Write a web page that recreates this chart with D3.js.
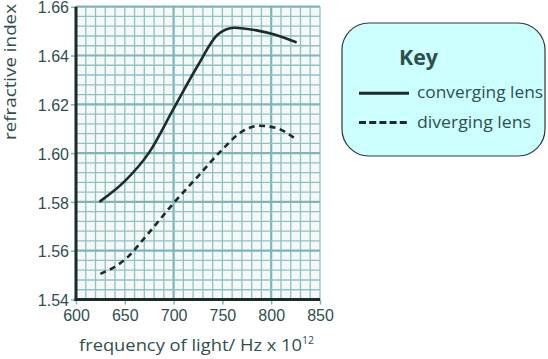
<!DOCTYPE html>
<html><head><meta charset="utf-8">
<script src="https://cdn.jsdelivr.net/npm/d3@7"></script>
<style>
html,body{margin:0;padding:0;background:#fff;}
svg{display:block;}
</style></head>
<body>
<svg id="c" width="548" height="359"></svg>
<script>
// ---- data ----
const xTicks = [600, 650, 700, 750, 800, 850];
const yTicks = [1.54, 1.56, 1.58, 1.60, 1.62, 1.64, 1.66];
const yTickLabels = ["1.54", "1.56", "1.58", "1.60", "1.62", "1.64", "1.66"];
const convergingX = [625, 650, 675, 700, 725, 745, 762, 785, 805, 825];
const convergingY = [1.5803, 1.5885, 1.6003, 1.6182, 1.6360, 1.6485, 1.6514, 1.6503, 1.6484, 1.6455];
const divergingX = [625, 650, 675, 700, 725, 750, 770, 787, 805, 825];
const divergingY = [1.5505, 1.5563, 1.5675, 1.5795, 1.5905, 1.6015, 1.6088, 1.6112, 1.6103, 1.6058];
const seriesNames = ["converging lens", "diverging lens"];

const svg = d3.select("#c");
const x = d3.scaleLinear().domain([600, 850]).range([76, 320]);
const y = d3.scaleLinear().domain([1.54, 1.66]).range([299.5, 6.7]);

const gridMinor = "#8cc3c3", gridMajor = "#7ab7b7", textCol = "#2f4f4f", ink = "#1c2b2b";

// plot background
svg.append("rect").attr("x", x(600)).attr("y", y(1.66))
  .attr("width", x(850) - x(600)).attr("height", y(1.54) - y(1.66)).attr("fill", "#f6f8f8");

// grid
const g = svg.append("g");
const xMinor = d3.range(600, 851, 10);
const yMinor = d3.range(0, 31).map(i => 1.54 + i * 0.004);
g.selectAll(".vx").data(xMinor).join("line")
  .attr("x1", d => x(d)).attr("x2", d => x(d))
  .attr("y1", y(1.54)).attr("y2", y(1.66))
  .attr("stroke", d => (d % 100 === 0) ? gridMajor : gridMinor)
  .attr("stroke-width", d => (d % 100 === 0) ? 2.2 : 1.3);
g.selectAll(".hy").data(yMinor).join("line")
  .attr("x1", x(600)).attr("x2", x(850))
  .attr("y1", d => y(d)).attr("y2", d => y(d))
  .attr("stroke", (d, i) => (i % 5 === 0) ? gridMajor : gridMinor)
  .attr("stroke-width", (d, i) => (i % 5 === 0) ? 2.2 : 1.3);

// axes
const xAxis = d3.axisBottom(x).tickValues(xTicks).tickSize(5).tickFormat(d3.format("d"));
const yAxis = d3.axisLeft(y).tickValues(yTicks).tickSize(5).tickFormat((d, i) => yTickLabels[i]);
const gx = svg.append("g").attr("transform", `translate(0,${y(1.54)})`).call(xAxis);
const gy = svg.append("g").attr("transform", `translate(${x(600)},0)`).call(yAxis);
[gx, gy].forEach(a => {
  a.select(".domain").remove();
  a.selectAll(".tick line").attr("stroke", gridMajor).attr("stroke-width", 1.5);
  a.selectAll(".tick text").attr("fill", textCol)
    .style("font-family", "'Liberation Sans', Arial, sans-serif").style("font-size", "16px");
});
gx.selectAll(".tick text").attr("dy", "0.95em").attr("y", 6);
gy.selectAll(".tick text").attr("x", -7).attr("y", 1);

svg.append("line").attr("x1", x(600)).attr("x2", x(600)).attr("y1", y(1.66)).attr("y2", y(1.54) + 1.5)
  .attr("stroke", ink).attr("stroke-width", 3);
svg.append("line").attr("x1", x(600) - 1.5).attr("x2", x(850)).attr("y1", y(1.54)).attr("y2", y(1.54))
  .attr("stroke", ink).attr("stroke-width", 3);

// curves
const line = d3.line().x(d => x(d[0])).y(d => y(d[1])).curve(d3.curveMonotoneX);
svg.append("path").datum(convergingX.map((v, i) => [v, convergingY[i]]))
  .attr("d", line).attr("fill", "none").attr("stroke", ink).attr("stroke-width", 2.6)
  .attr("stroke-linecap", "round");
svg.append("path").datum(divergingX.map((v, i) => [v, divergingY[i]]))
  .attr("d", line).attr("fill", "none").attr("stroke", ink).attr("stroke-width", 2.6)
  .attr("stroke-dasharray", "6,4.5");

// axis titles
const titleFont = "'Comic Sans MS', 'Open Sans', 'DejaVu Sans', sans-serif";
svg.append("text").attr("transform", "translate(15.5,72) rotate(-90)")
  .attr("text-anchor", "middle").attr("fill", textCol)
  .style("font-family", titleFont).style("font-size", "15.5px")
  .attr("textLength", 136).attr("lengthAdjust", "spacingAndGlyphs")
  .text("refractive index");
const xt = svg.append("text").attr("x", 79).attr("y", 351).attr("fill", textCol)
  .style("font-family", titleFont).style("font-size", "16px");
xt.append("tspan").text("frequency of light/ Hz x 10").attr("textLength", 223).attr("lengthAdjust", "spacingAndGlyphs");
xt.append("tspan").text("12").attr("dy", -7).style("font-size", "10.5px");

// legend
const lg = svg.append("g");
lg.append("rect").attr("x", 342).attr("y", 23).attr("width", 203).attr("height", 133)
  .attr("rx", 27).attr("ry", 27).attr("fill", "#ccffff").attr("stroke", "#2a3a3a").attr("stroke-width", 1.2);
lg.append("text").attr("x", 399).attr("y", 65).attr("fill", textCol)
  .style("font-family", titleFont).style("font-size", "21px").style("font-weight", "bold")
  .attr("textLength", 39).attr("lengthAdjust", "spacingAndGlyphs").text("Key");
const legY = [93.3, 122.5];
const legLen = [126, 114];
seriesNames.forEach((name, i) => {
  lg.append("line").attr("x1", 359).attr("x2", 409).attr("y1", legY[i]).attr("y2", legY[i])
    .attr("stroke", ink).attr("stroke-width", 3)
    .attr("stroke-dasharray", i === 1 ? "7,3.2" : null);
  lg.append("text").attr("x", 417).attr("y", legY[i] + 5).attr("fill", textCol)
    .style("font-family", titleFont).style("font-size", "16px")
    .attr("textLength", legLen[i]).attr("lengthAdjust", "spacingAndGlyphs").text(name);
});
</script>
</body></html>
